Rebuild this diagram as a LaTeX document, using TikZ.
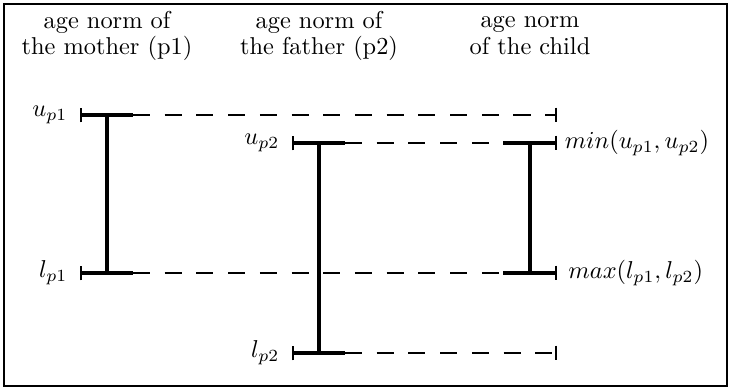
\documentclass[tikz,border=0pt]{standalone}
\usepackage{tikz}
\usetikzlibrary{positioning,arrows.meta,calc}

\begin{document}
\begin{tikzpicture}[
  x=0.41pt, y=-0.41pt,
  title/.style={align=center, inner sep=1pt},
  lim/.style={line width=1.3pt},
  gap/.style={line width=0.7pt, dash pattern=on 7pt off 6pt},
  barl/.style={{Bar[width=6pt, line width=0.7pt]}-},
  barr/.style={-{Bar[width=6pt, line width=0.7pt]}},
  lab/.style={inner sep=1pt},
]
  \useasboundingbox (0,0) rectangle (731,390);
  \draw[line width=0.9pt] (4,4) rectangle (727,386);

  % column titles
  \node[title] (tmother) at (107,36) {age norm of\\[-1pt]the mother (p1)};
  \node[title] (tfather) at (319,36) {age norm of\\[-1pt]the father (p2)};
  \node[title] (tchild)  at (530,36) {age norm\\[-1pt]of the child};

  % mother
  \coordinate (mu) at (107,115);
  \coordinate (ml) at (107,273);
  \coordinate (mut) at (80,115);  \coordinate (mue) at (133,115);
  \coordinate (mlt) at (80,273);  \coordinate (mle) at (133,273);
  % father
  \coordinate (fu) at (319,143);
  \coordinate (fl) at (319,353);
  \coordinate (fut) at (292,143); \coordinate (fue) at (345,143);
  \coordinate (flt) at (292,353); \coordinate (fle) at (345,353);
  % child
  \coordinate (cu) at (530,143);
  \coordinate (cl) at (530,273);
  \coordinate (cus) at (503,143); \coordinate (cut) at (557,143);
  \coordinate (cls) at (503,273); \coordinate (clt) at (557,273);
  \coordinate (mur) at (557,115);
  \coordinate (flr) at (557,353);

  \draw[lim] (mu) -- (ml);
  \draw[lim] (fu) -- (fl);
  \draw[lim] (cu) -- (cl);

  \draw[lim, barl] (mut) -- (mue);
  \draw[lim, barl] (mlt) -- (mle);
  \draw[lim, barl] (fut) -- (fue);
  \draw[lim, barl] (flt) -- (fle);
  \draw[lim, barr] (cus) -- (cut);
  \draw[lim, barr] (cls) -- (clt);

  \draw[gap, barr] (mue) -- (mur);
  \draw[gap] (mle) -- (cls);
  \draw[gap] (fue) -- (cus);
  \draw[gap, barr] (fle) -- (flr);

  \node[lab, left=4pt of mut] (lup1) {$u_{p1}$};
  \node[lab, left=4pt of mlt] (llp1) {$l_{p1}$};
  \node[lab, left=4pt of fut] (lup2) {$u_{p2}$};
  \node[lab, left=4pt of flt] (llp2) {$l_{p2}$};
  \node[lab, right=2pt of cut] (lmin) {$min(u_{p1},u_{p2})$};
  \node[lab, right=3.5pt of clt] (lmax) {$max(l_{p1},l_{p2})$};
\end{tikzpicture}
\end{document}
